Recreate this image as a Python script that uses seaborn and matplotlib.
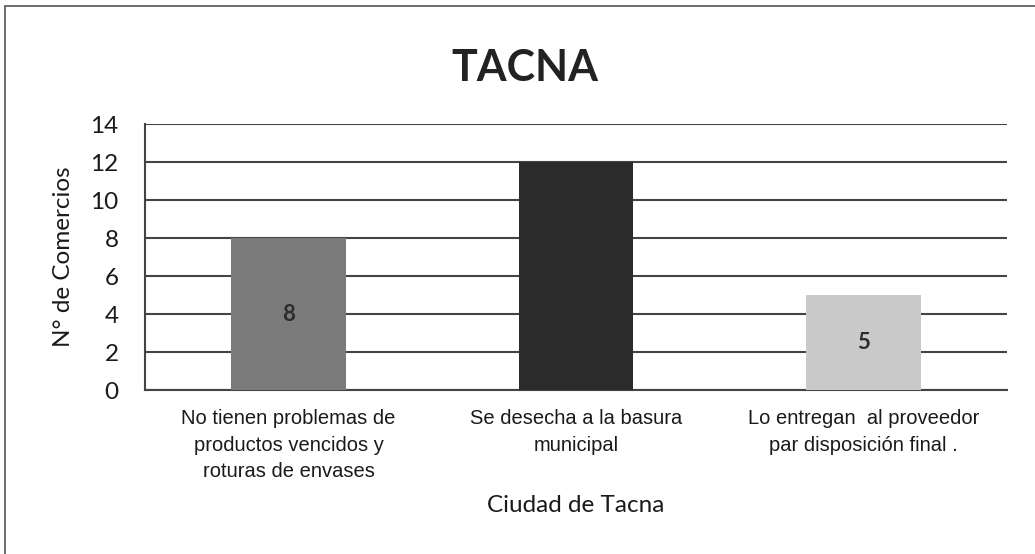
import matplotlib
matplotlib.use("Agg")
import matplotlib.pyplot as plt
import seaborn as sns
import pandas as pd
from matplotlib.patches import Rectangle

# datos del gráfico
categorias = ["No tienen problemas de\nproductos vencidos y\nroturas de envases",
              "Se desecha a la basura\nmunicipal",
              "Lo entregan  al proveedor\npar disposición final ."]
comercios = [8, 12, 5]
colores = ["#7b7b7b", "#2b2b2b", "#c9c9c9"]

sns.set_style("white")
plt.rcParams['font.family'] = ['Lato', 'DejaVu Sans']

df = pd.DataFrame({"categoria": categorias, "comercios": comercios})

fig = plt.figure(figsize=(10.35, 5.54), dpi=100)
ax = fig.add_axes([0.140, 0.296, 0.833, 0.480])

sns.barplot(data=df, x="categoria", y="comercios", hue="categoria",
            palette=colores, width=0.4, legend=False, ax=ax, zorder=3,
            linewidth=0, edgecolor="none")

# etiquetas de valor dentro de las barras (la del centro casi no se ve)
for cont in ax.containers:
    ax.bar_label(cont, label_type="center", fontsize=16, color="#2c2c2c",
                 fontweight="bold")

ax.set_ylim(0, 14)
ax.set_xlim(-0.5, 2.5)
ax.set_yticks(range(0, 15, 2))
ax.yaxis.grid(True, color="#444444", linewidth=1.5, zorder=0)
ax.set_axisbelow(True)

for s in ["top", "right"]:
    ax.spines[s].set_visible(False)
ax.spines["left"].set_color("#444444")
ax.spines["bottom"].set_color("#444444")
ax.spines["left"].set_linewidth(1.5)
ax.spines["bottom"].set_linewidth(1.5)

ax.tick_params(axis="y", length=6, width=1.5, color="#444444", labelsize=17.5,
               pad=13, labelcolor="#1a1a1a")
ax.tick_params(axis="x", which="major", length=0, pad=14, labelcolor="#1a1a1a")
ax.set_xticks([0.5, 1.5], minor=True)
ax.tick_params(axis="x", which="minor", length=6, width=1.5, color="#444444")
for lab in ax.get_xticklabels():
    lab.set_fontfamily(['Liberation Sans', 'DejaVu Sans'])
    lab.set_fontsize(14.5)
    lab.set_linespacing(1.5)

ax.set_ylabel("N° de Comercios", fontsize=17.5, labelpad=12, color="#1a1a1a")
ax.set_xlabel("Ciudad de Tacna", fontsize=17.5, labelpad=10, color="#1a1a1a")

fig.text(0.507, 0.878, "TACNA", ha="center", va="center",
         fontsize=31, fontweight="bold", color="#222222")

# marco exterior
fig.patches.append(Rectangle((0.005, -0.05), 1.2, 1.04, transform=fig.transFigure,
                             fill=False, edgecolor="#555555", linewidth=1.2))

fig.savefig("out.png", dpi=100)
